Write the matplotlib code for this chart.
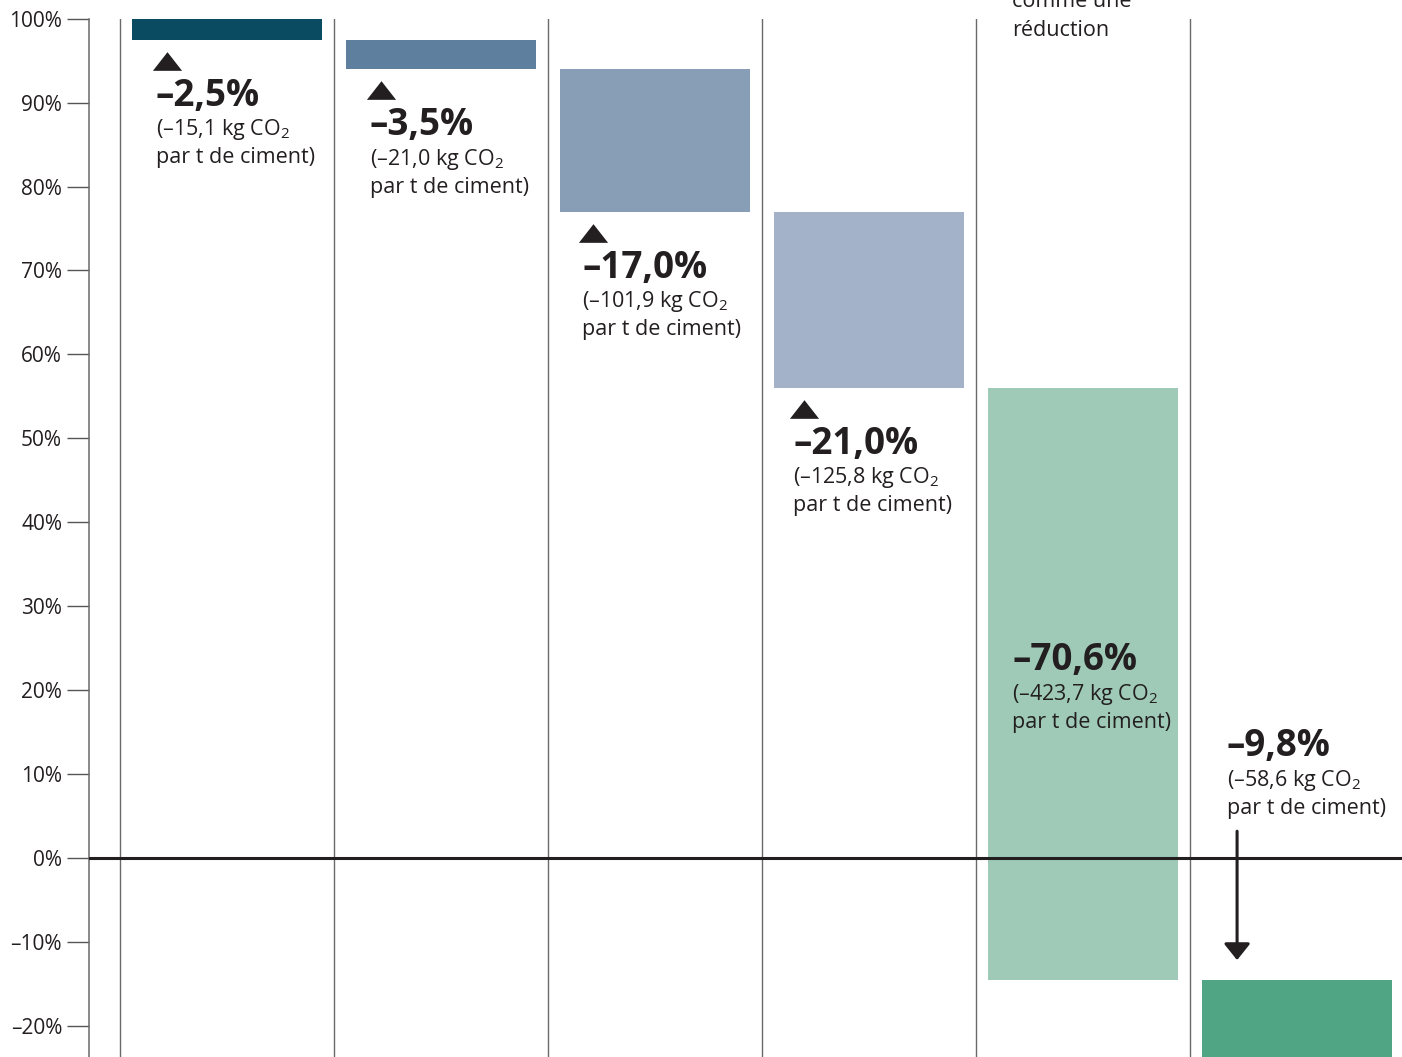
import matplotlib
matplotlib.use("Agg")
import matplotlib.pyplot as plt
import matplotlib.transforms as mtransforms

plt.rcParams['font.family'] = ['Open Sans', 'DejaVu Sans']
plt.rcParams['mathtext.fontset'] = 'custom'
plt.rcParams['mathtext.rm'] = 'Open Sans'
plt.rcParams['mathtext.it'] = 'Open Sans:italic'
plt.rcParams['mathtext.bf'] = 'Open Sans:bold'

# ---- data ----
start_value = 100.0
pct_changes = [-2.5, -3.5, -17.0, -21.0, -70.6, -9.8]
kg_changes = [-15.1, -21.0, -101.9, -125.8, -423.7, -58.6]
bar_colors = ['#0a4b62', '#5f7f9e', '#889eb6', '#a3b2c8', '#9ecab7', '#4fa584']
y_ticks = [-20, -10, 0, 10, 20, 30, 40, 50, 60, 70, 80, 90, 100]
top_note = ["comme une", "réduction"]

TXT = '#231f20'
FS = 15.5
FS_B = 26.5

def fr(v, nd=1):
    s = f"{abs(v):.{nd}f}".replace('.', ',')
    return ("–" if v < 0 else "") + s

fig = plt.figure(figsize=(14.02, 10.57), dpi=100)
ax = fig.add_axes([89 / 1402, 0, 1313 / 1402, (1057 - 18.7) / 1057])
ax.set_xlim(-31 / 214, 1282 / 214)
ax.set_ylim(-23.75, 100)

# cumulative waterfall
tops = []
cur = start_value
for d in pct_changes:
    tops.append(cur)
    cur += d
bottoms = [t + d for t, d in zip(tops, pct_changes)]

for i, (t, d, c) in enumerate(zip(tops, pct_changes, bar_colors)):
    ax.bar(i + 0.5, d, bottom=t, width=190 / 214, color=c, zorder=2,
           linewidth=0)

# column separators
for i in range(len(pct_changes)):
    ax.axvline(i, color='#6a6a6a', lw=1.0, zorder=1)

# zero line
ax.axhline(0, color='#231f20', lw=2.2, zorder=4)

# axes styling
for s in ['top', 'right', 'bottom']:
    ax.spines[s].set_visible(False)
ax.spines['left'].set_color('#6a6a6a')
ax.spines['left'].set_linewidth(1.1)
ax.set_xticks([])
ax.set_yticks(y_ticks)
ax.set_yticklabels([f"{fr(v, 0)}%" for v in y_ticks])
ax.tick_params(axis='y', length=15.8, width=1.0, color='#555555', pad=3.6,
               labelsize=15, labelcolor=TXT)
for lab in ax.get_yticklabels():
    lab.set_clip_on(False)

px = 0.72  # points per pixel
tri = [(-1, -0.64), (1, -0.64), (0, 0.64)]
label_dx = [0.168, 0.168, 0.159, 0.145]

def label_block(x, y, i, dy0):
    ax.annotate(f"{fr(pct_changes[i])}%", xy=(x, y), xytext=(0, -dy0 * px),
                textcoords='offset points', ha='left', va='center',
                fontsize=FS_B, fontweight='bold', color=TXT, zorder=6)
    ax.annotate(f"({fr(kg_changes[i])} kg CO$_2$", xy=(x, y),
                xytext=(0, -(dy0 + 34) * px), textcoords='offset points',
                ha='left', va='center', fontsize=FS, color=TXT, zorder=6)
    ax.annotate("par t de ciment)", xy=(x, y),
                xytext=(0, -(dy0 + 62) * px), textcoords='offset points',
                ha='left', va='center', fontsize=FS, color=TXT, zorder=6)

# labels below bars 0-3 with triangles
for i in range(4):
    b = bottoms[i]
    tr = mtransforms.offset_copy(ax.transData, fig=fig, x=0, y=-21 * px,
                                 units='points')
    ax.plot([i + label_dx[i] + 0.052], [b], marker=tri, color=TXT,
            markersize=21, markeredgewidth=0, transform=tr, zorder=6,
            clip_on=False)
    label_block(i + label_dx[i], b, i, 56)

# bar 5 label inside bar, bar 6 label above zero
label_block(4 + 36 / 214, 23.56, 4, 0)
label_block(5 + 37 / 214, 13.3, 5, 0)

# arrow for last step
ax.annotate('', xy=(5.22, -12.2), xytext=(5.22, 3.16),
            arrowprops=dict(arrowstyle='-|>,head_length=0.25,head_width=0.2',
                            mutation_scale=40, lw=2.2, color=TXT,
                            shrinkA=0, shrinkB=0), zorder=6)

# top note (partly cut off at the top edge, as in the source)
ax.text(4 + 36 / 214, 102.0, top_note[0], ha='left', va='center',
        fontsize=FS, color=TXT, clip_on=False)
ax.text(4 + 36 / 214, 98.65, top_note[1], ha='left', va='center',
        fontsize=FS, color=TXT, clip_on=False)

fig.savefig("out.png", dpi=100)
